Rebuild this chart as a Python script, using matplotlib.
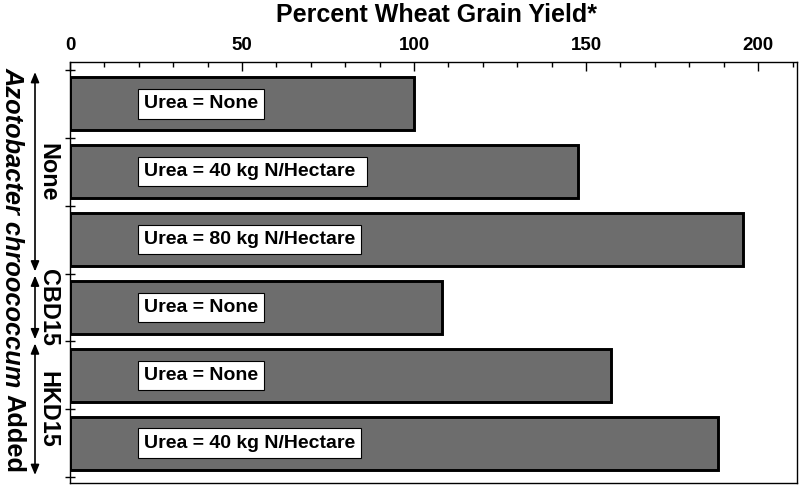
import matplotlib
matplotlib.use("Agg")
import matplotlib.pyplot as plt
from matplotlib.ticker import MultipleLocator

# ---- data ----
yield_pct = [100, 147.7, 195.6, 108, 157.3, 188.2]
bar_labels = ["Urea = None", "Urea = 40 kg N/Hectare ", "Urea = 80 kg N/Hectare",
              "Urea = None", "Urea = None", "Urea = 40 kg N/Hectare"]
groups = ["None", "CBD15", "HKD15"]
group_spans = [(-0.5, 2.5), (2.5, 3.5), (3.5, 5.5)]
xticks = [0, 50, 100, 150, 200]
title = "Percent Wheat Grain Yield*"

plt.rcParams['font.family'] = ['Liberation Sans', 'DejaVu Sans']

W, H = 800, 487
fig = plt.figure(figsize=(W / 100, H / 100), dpi=100)
ax = fig.add_axes([70 / W, (H - 483) / H, 727 / W, 421 / H])

ypos = list(range(len(yield_pct)))
ax.barh(ypos, yield_pct, height=0.78, color='#6d6d6d', edgecolor='black', linewidth=2.1)

for y, lab in zip(ypos, bar_labels):
    ax.text(21.5, y, lab, ha='left', va='center', fontsize=14, fontweight='bold',
            bbox=dict(boxstyle='square,pad=0.32', facecolor='white', edgecolor='black', linewidth=0.8))

ax.set_xlim(0, 211.3)
ax.set_ylim(5.588, -0.618)

ax.xaxis.tick_top()
ax.set_xticks(xticks)
ax.xaxis.set_minor_locator(MultipleLocator(10))
ax.tick_params(axis='x', which='major', direction='in', length=6.5, width=1.0,
               labelsize=13.5, pad=6, top=True, bottom=False)
ax.tick_params(axis='x', which='minor', direction='in', length=3.5, width=1.0,
               top=True, bottom=False)
for lab in ax.get_xticklabels():
    lab.set_fontweight('bold')

ax.set_yticks([-0.5, 0.5, 1.5, 2.5, 3.5, 4.5, 5.5])
ax.set_yticklabels([])
ax.tick_params(axis='y', direction='inout', length=7, width=1.0, left=True, right=False)

for s in ax.spines.values():
    s.set_linewidth(1.0)
    s.set_color('black')

# title
fig.text(437 / W, 1 - 15 / H, title, ha='center', va='center', fontsize=18, fontweight='bold')

# group arrows and labels
trans = ax.get_yaxis_transform()
ax_x_arrow = (35 - 70) / 727
ax_x_label = (48 - 70) / 727
for g, (a, b) in zip(groups, group_spans):
    ax.annotate('', xy=(ax_x_arrow, a), xytext=(ax_x_arrow, b),
                xycoords=trans, textcoords=trans, annotation_clip=False,
                arrowprops=dict(arrowstyle='<|-|>,head_length=0.6,head_width=0.25',
                                mutation_scale=10, lw=1.2, color='black',
                                shrinkA=1.5, shrinkB=1.5))
    ax.text(ax_x_label, (a + b) / 2, g, transform=trans, rotation=270,
            ha='center', va='center', fontsize=16.8, fontweight='bold', clip_on=False)

# main left label
t1 = fig.text(13 / W, 1 - 67 / H, "Azotobacter chroococcum", rotation=270,
              ha='center', va='top', fontsize=18.3, fontweight='bold', style='italic')
fig.canvas.draw()
bb = t1.get_window_extent()
gap = 7
fig.text(13 / W, (bb.y0 - gap) / H, "Added", rotation=270,
         ha='center', va='top', fontsize=18.3, fontweight='bold')

fig.savefig('out.png', dpi=100)
